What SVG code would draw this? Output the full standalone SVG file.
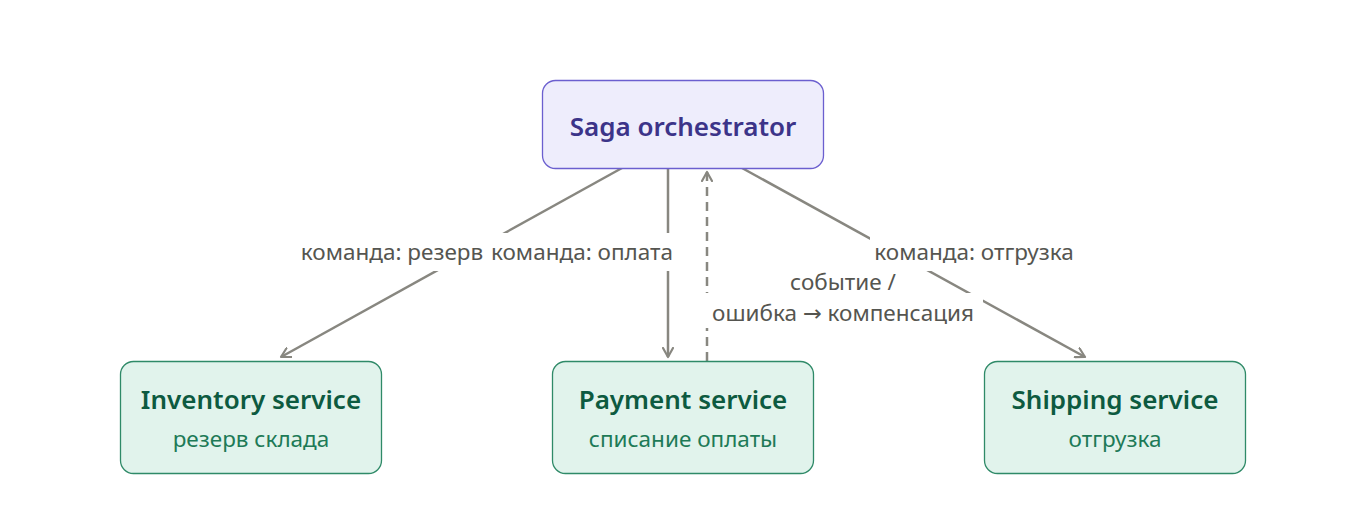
<svg xmlns="http://www.w3.org/2000/svg" width="1366" height="522" viewBox="0 0 1366 522">
<style>
.orch{fill:#EEEDFC;stroke:#6B5FCF;stroke-width:1.3}
.svc{fill:#E1F3EC;stroke:#2F8A68;stroke-width:1.3}
.t{font-family:"Noto Sans","Open Sans",sans-serif;text-anchor:middle}
.ot{font-size:26px;font-weight:600;fill:#3C3489}
.st{font-size:26px;font-weight:600;fill:#0D5A40}
.ss{font-size:22.5px;fill:#1D7A57}
.lbl{font-family:"Noto Sans","Open Sans",sans-serif;font-size:22.5px;fill:#555550;text-anchor:middle}
.arr{font-family:"DejaVu Sans",sans-serif}
.edge{stroke:#888780;stroke-width:2.5;fill:none}
.dash{stroke-dasharray:9 6}
.bg{fill:#ffffff}
</style>
<defs>
<marker id="ah" viewBox="0 0 12 12" refX="10" refY="6" markerWidth="12" markerHeight="12" markerUnits="userSpaceOnUse" orient="auto">
<path d="M1,1 L10,6 L1,11" fill="none" stroke="#888780" stroke-width="2.2" stroke-linecap="round" stroke-linejoin="round"/>
</marker>
</defs>
<rect width="1366" height="522" fill="#ffffff"/>
<g id="connectors">
<line class="edge" x1="622" y1="168" x2="281" y2="357" marker-end="url(#ah)"/>
<line class="edge" x1="668" y1="168" x2="668" y2="357" marker-end="url(#ah)"/>
<line class="edge" x1="742" y1="168" x2="1085" y2="357" marker-end="url(#ah)"/>
<line class="edge dash" x1="707" y1="361" x2="707" y2="172" marker-end="url(#ah)"/>
<rect class="bg" x="298" y="233" width="194" height="38"/>
<rect class="bg" x="490" y="233" width="185" height="38"/>
<rect class="bg" x="870" y="233" width="208" height="38"/>
<rect class="bg" x="786" y="268" width="116" height="24"/>
<rect class="bg" x="704" y="293" width="279" height="35"/>
<text class="lbl" x="392" y="260">команда: резерв</text>
<text class="lbl" x="582" y="260">команда: оплата</text>
<text class="lbl" x="974" y="260">команда: отгрузка</text>
<text class="lbl" x="843" y="290">событие /</text>
<text class="lbl" x="843" y="321">ошибка <tspan class="arr">→</tspan> компенсация</text>
</g>
<g id="orchestrator">
<rect class="orch" x="542.5" y="80.5" width="281" height="88" rx="13"/>
<text class="t ot" x="683" y="136">Saga orchestrator</text>
</g>
<g id="inventory">
<rect class="svc" x="120.5" y="361.5" width="261" height="112" rx="13"/>
<text class="t st" x="251" y="409">Inventory service</text>
<text class="t ss" x="251" y="447">резерв склада</text>
</g>
<g id="payment">
<rect class="svc" x="552.5" y="361.5" width="261" height="112" rx="13"/>
<text class="t st" x="683" y="409">Payment service</text>
<text class="t ss" x="683" y="447">списание оплаты</text>
</g>
<g id="shipping">
<rect class="svc" x="984.5" y="361.5" width="261" height="112" rx="13"/>
<text class="t st" x="1115" y="409">Shipping service</text>
<text class="t ss" x="1115" y="447">отгрузка</text>
</g>
</svg>
